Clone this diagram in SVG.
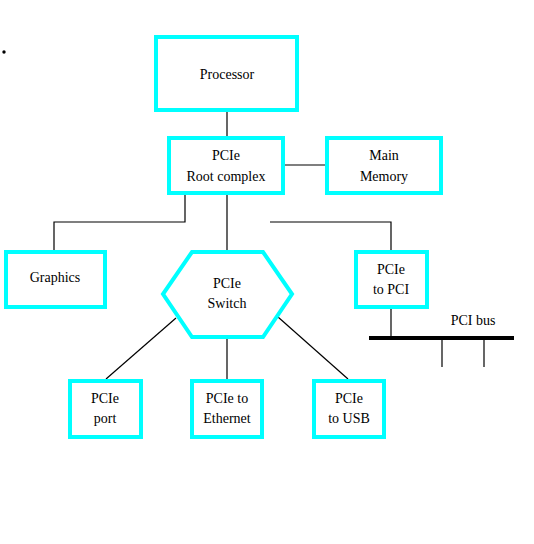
<svg xmlns="http://www.w3.org/2000/svg" width="534" height="544" viewBox="0 0 534 544">
<style>
.box{fill:#fff;stroke:#00ffff;stroke-width:4}
.ln{stroke:#000;stroke-width:1.2;fill:none}
.t{font-family:"Liberation Serif","Times New Roman",serif;font-size:14px;fill:#000;text-anchor:middle}
</style>
<rect width="534" height="544" fill="#fff"/>
<circle cx="4" cy="52" r="1.7" fill="#000"/>
<g id="connectors">
<line class="ln" x1="227" y1="112" x2="227" y2="136"/>
<line class="ln" x1="285" y1="165" x2="325" y2="165"/>
<polyline class="ln" points="185,195 185,222 54,222 54,250"/>
<line class="ln" x1="227" y1="195" x2="227" y2="251"/>
<polyline class="ln" points="270,222 391,222 391,250"/>
<line class="ln" x1="391" y1="309" x2="391" y2="338"/>
<line x1="369" y1="338" x2="514" y2="338" stroke="#000" stroke-width="4"/>
<line class="ln" x1="442" y1="338" x2="442" y2="367"/>
<line class="ln" x1="484" y1="338" x2="484" y2="367"/>
<line class="ln" x1="176" y1="318" x2="106" y2="379"/>
<line class="ln" x1="227" y1="338" x2="227" y2="379"/>
<line class="ln" x1="278" y1="317" x2="348" y2="379"/>
</g>
<g id="processor"><rect class="box" x="156" y="37" width="141" height="73"/><text class="t" x="227" y="79">Processor</text></g>
<g id="rootcomplex"><rect class="box" x="169" y="138" width="114" height="55"/><text class="t" x="226" y="160">PCIe</text><text class="t" x="226" y="181">Root complex</text></g>
<g id="mainmemory"><rect class="box" x="327" y="138" width="114" height="55"/><text class="t" x="384" y="160">Main</text><text class="t" x="384" y="181">Memory</text></g>
<g id="graphics"><rect class="box" x="6" y="252" width="99" height="55"/><text class="t" x="55" y="282">Graphics</text></g>
<g id="switch"><polygon class="box" points="192,252 263,252 292,294 263,337 192,337 163,294"/><text class="t" x="227" y="288">PCIe</text><text class="t" x="227" y="308">Switch</text></g>
<g id="pcietopci"><rect class="box" x="356" y="252" width="71" height="55"/><text class="t" x="391" y="274">PCIe</text><text class="t" x="391" y="294">to PCI</text></g>
<g id="pcibus"><text class="t" x="473" y="325">PCI bus</text></g>
<g id="pcieport"><rect class="box" x="70" y="381" width="71" height="56"/><text class="t" x="105" y="403">PCIe</text><text class="t" x="105" y="423">port</text></g>
<g id="pcieethernet"><rect class="box" x="192" y="381" width="70" height="56"/><text class="t" x="227" y="403">PCIe to</text><text class="t" x="227" y="423">Ethernet</text></g>
<g id="pcieusb"><rect class="box" x="314" y="381" width="70" height="56"/><text class="t" x="349" y="403">PCIe</text><text class="t" x="349" y="423">to USB</text></g>
</svg>
